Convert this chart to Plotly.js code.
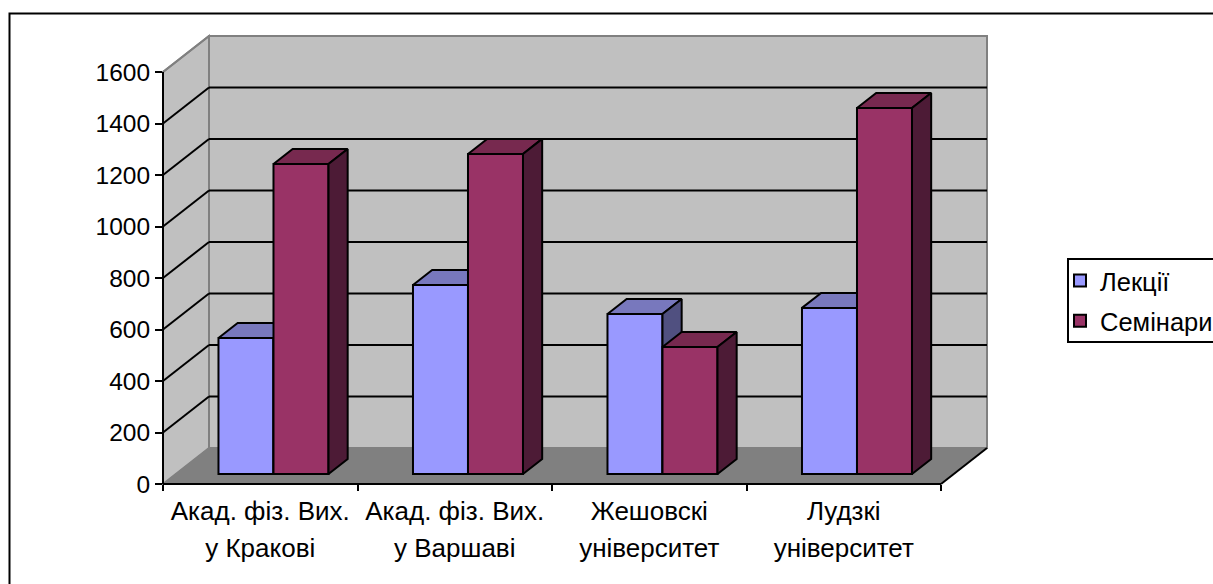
<!DOCTYPE html>
<html><head><meta charset="utf-8">
<script src="https://cdn.plot.ly/plotly-3.0.1.min.js"></script>
<style>html,body{margin:0;padding:0;background:#fff;overflow:hidden}</style>
</head><body><div id="chart" style="width:1213px;height:584px"></div>
<script>
const line1 = ["Акад. фіз. Вих.", "Акад. фіз. Вих.", "Жешовскі", "Лудзкі"];
const line2 = ["у Кракові", "у Варшаві", "університет", "університет"];
const lectures = [528, 734, 621, 645];
const seminars = [1204, 1243, 493, 1421];
const yTicks = [0, 200, 400, 600, 800, 1000, 1200, 1400, 1600];
const seriesNames = ["Лекції", "Семінари"];

const FONT = "Liberation Sans, Arial, sans-serif";
const FS = 25;
const nCat = line1.length, yMax = 1600;
// oblique projection of the Excel-style 3-D frame, in axis units
const dX = 0.2365, dY = 139.8;
const xR = [0, nCat + dX], yR = [0, yMax + dY];
const barW = 0.2828, pairStart = 0.2195, z0 = 0.278, z1 = 0.695;
const pr = (x, y, z) => [x + z * dX, y + z * dY];

// paper-space shapes (unclipped) derived from the axis units
const PX = x => (x - xR[0]) / (xR[1] - xR[0]);
const PY = y => (y - yR[0]) / (yR[1] - yR[0]);
function poly(pts, fill, color, width) {
  const d = pts.map((p, i) => (i ? "L" : "M") + PX(p[0]) + "," + PY(p[1])).join("") + "Z";
  return {type: "path", xref: "paper", yref: "paper", path: d, fillcolor: fill, layer: "below",
          line: {color: color, width: width}};
}
function seg(a, b, color, width) {
  return {type: "line", xref: "paper", yref: "paper", layer: "below",
          x0: PX(a[0]), y0: PY(a[1]), x1: PX(b[0]), y1: PY(b[1]), line: {color: color, width: width}};
}
const shapes = [];
// outer chart frame and legend box (both run off the canvas as in the reference)
const fx = p => (p - 163) / 824, fy = p => (484 - p) / 448;
shapes.push({type: "rect", xref: "paper", yref: "paper", layer: "below", x0: fx(9.5), x1: fx(1400), y0: fy(13.5), y1: fy(800),
             fillcolor: "#ffffff", line: {color: "#000", width: 2}});
shapes.push({type: "rect", xref: "paper", yref: "paper", layer: "below", x0: fx(1068), x1: fx(1400), y0: fy(259), y1: fy(342),
             fillcolor: "#ffffff", line: {color: "#000", width: 2}});
// walls and floor
shapes.push(poly([pr(0,0,0), pr(0,yMax,0), pr(0,yMax,1), pr(0,0,1)], "#c0c0c0", "#808080", 2));
shapes.push(poly([pr(0,0,1), pr(0,yMax,1), pr(nCat,yMax,1), pr(nCat,0,1)], "#c0c0c0", "#808080", 2));
shapes.push(poly([pr(0,0,0), pr(0,0,1), pr(nCat,0,1), pr(nCat,0,0)], "#808080", "#808080", 1));
// gridlines
yTicks.filter(v => v > 0 && v < yMax).forEach(v => {
  shapes.push(seg(pr(0,v,0), pr(0,v,1), "#000", 2));
  shapes.push(seg(pr(0,v,1), pr(nCat,v,1), "#000", 2));
});
shapes.push(seg(pr(0,yMax,0), pr(0,yMax,1), "#808080", 2));
// axis lines
shapes.push(seg(pr(nCat,0,0), pr(nCat,0,1), "#000", 2));
shapes.push(seg(pr(0,0,0), pr(nCat,0,0), "#000", 2));
shapes.push(seg(pr(0,0,0), pr(0,yMax,0), "#000", 2));

const lift = z0 * dY, xLift = z0 * dX;
const xLect = lectures.map((_, i) => i + pairStart + xLift + barW / 2);
const xSem = seminars.map((_, i) => i + pairStart + xLift + barW * 1.5);

function faces(xc, vals, topCol, sideCol, xa, ya) {
  const tx = [], ty = [], sx = [], sy = [];
  xc.forEach((c, i) => {
    const L = c - barW / 2 - xLift, R = c + barW / 2 - xLift, v = vals[i];
    const top = [pr(L,v,z0), pr(L,v,z1), pr(R,v,z1), pr(R,v,z0), pr(L,v,z0)];
    const side = [pr(R,0,z0), pr(R,v,z0), pr(R,v,z1), pr(R,0,z1), pr(R,0,z0)];
    top.forEach(p => { tx.push(p[0]); ty.push(p[1]); }); tx.push(null); ty.push(null);
    side.forEach(p => { sx.push(p[0]); sy.push(p[1]); }); sx.push(null); sy.push(null);
  });
  const mk = (x, y, col) => ({type: "scatter", mode: "lines", x, y, fill: "toself", fillcolor: col,
    line: {color: "#000", width: 2}, showlegend: false, hoverinfo: "skip", xaxis: xa, yaxis: ya});
  return [mk(tx, ty, topCol), mk(sx, sy, sideCol)];
}
function bars(name, xc, vals, col, xa, ya, grp) {
  return {type: "bar", name, x: xc, y: vals, base: vals.map(() => lift), width: barW,
    marker: {color: col, line: {color: "#000", width: 2}}, xaxis: xa, yaxis: ya, legendgroup: grp};
}
const data = [
  bars(seriesNames[0], xLect, lectures, "#9999ff", "x", "y", "a"),
  ...faces(xLect, lectures, "#7878bd", "#505080", "x", "y"),
  bars(seriesNames[1], xSem, seminars, "#993366", "x2", "y2", "b"),
  ...faces(xSem, seminars, "#77294f", "#4d1b36", "x2", "y2"),
];
const wrap = s => `<span style="font-size:${FS + 1}px">${s}</span>`;
const layout = {
  width: 1213, height: 584, autosize: false,
  margin: {l: 163, r: 226, t: 36, b: 100, pad: 0, autoexpand: false},
  paper_bgcolor: "#fff", plot_bgcolor: "rgba(0,0,0,0)",
  font: {family: FONT, size: FS, color: "#000"},
  barmode: "overlay", hovermode: false,
  xaxis: {range: xR, showgrid: false, zeroline: false, showline: false,
    tickmode: "array", tickvals: line1.map((_, i) => i + 0.5),
    ticktext: line1.map((s, i) => wrap(s) + "<br>" + wrap(line2[i])),
    ticks: "outside", ticklen: 1, tickcolor: "rgba(0,0,0,0)", tickangle: 0,
    tickfont: {family: FONT, size: 28.5, color: "#000"},
    minor: {tickmode: "array", tickvals: [0, 1, 2, 3, 4], ticks: "outside", ticklen: 6, tickcolor: "#000", tickwidth: 2, showgrid: false}},
  yaxis: {range: yR, showgrid: false, zeroline: false, showline: false,
    tickmode: "array", tickvals: yTicks, ticks: "outside", ticklen: 7, tickwidth: 2, tickcolor: "#000",
    tickfont: {family: FONT, size: 24.5, color: "#000"}},
  xaxis2: {range: xR, overlaying: "x", visible: false},
  yaxis2: {range: yR, overlaying: "y", visible: false},
  legend: {x: (1060 - 163) / 824, xanchor: "left", y: (484 - 301) / 448, yanchor: "middle",
    bgcolor: "rgba(0,0,0,0)", borderwidth: 0, tracegroupgap: 4, traceorder: "grouped",
    font: {family: FONT, size: 25.5, color: "#000"}},
  showlegend: true,
  shapes
};
Plotly.newPlot("chart", data, layout, {displayModeBar: false, staticPlot: true});
</script></body></html>
